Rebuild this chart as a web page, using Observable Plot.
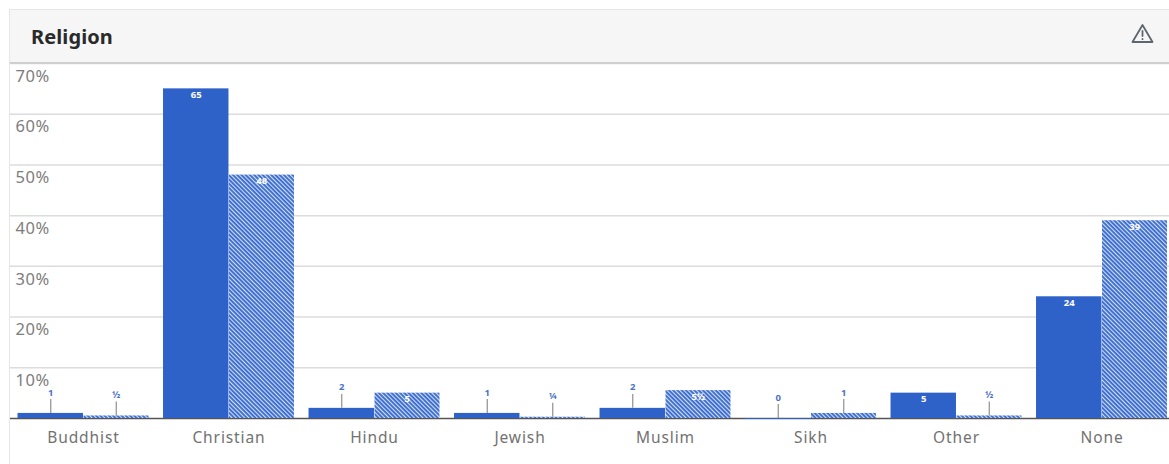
<!DOCTYPE html>
<html>
<head>
<meta charset="utf-8">
<script src="https://cdn.jsdelivr.net/npm/d3@7"></script>
<script src="https://cdn.jsdelivr.net/npm/@observablehq/plot@0.6"></script>
<style>
  html, body { margin: 0; padding: 0; background: #fff; overflow: hidden; }
  #page { position: relative; width: 1169px; height: 464px; overflow: hidden; font-family: "Noto Sans", sans-serif; }
  #card { position: absolute; left: 9px; top: 9px; width: 1170px; height: 470px; border: 1px solid #e6e6e6; box-sizing: border-box; }
  #head { position: absolute; left: 10px; top: 10px; width: 1159px; height: 52px; background: #f6f6f6; border-bottom: 2px solid #cfcfcf; box-sizing: content-box; }
  #head h2 { position: absolute; left: 21px; top: 11px; margin: 0; font-size: 20px; line-height: 32px; font-weight: 700; color: #2a2a2a; letter-spacing: 0.1px; }
  #head svg { position: absolute; left: 1121px; top: 13px; }
  #chart { position: absolute; left: 0; top: 0; }
  #chart svg { display: block; background: transparent; }
</style>
</head>
<body>
<div id="page">
  <div id="card"></div>
  <div id="chart"></div>
  <div id="head">
    <h2>Religion</h2>
    <svg width="23" height="21" viewBox="0 0 23 21" fill="none" stroke="#5f6670" stroke-width="1.8" stroke-linejoin="round" stroke-linecap="round">
      <path d="M11.5 2 L21.5 19 L1.5 19 Z"/>
      <path d="M11.5 8 L11.5 13"/>
      <path d="M11.5 16 L11.5 16.2"/>
    </svg>
  </div>
</div>
<script>
const categories = ["Buddhist", "Christian", "Hindu", "Jewish", "Muslim", "Sikh", "Other", "None"];
const solidValues = [1, 65, 2, 1, 2, 0, 5, 24];
const solidLabels = ["1", "65", "2", "1", "2", "0", "5", "24"];
const hatchedValues = [0.5, 48, 5, 0.25, 5.5, 1, 0.5, 39];
const hatchedLabels = ["½", "48", "5", "¼", "5½", "1", "½", "39"];
const yTicks = [10, 20, 30, 40, 50, 60, 70];

const blue = "#2f62c8";
const half = 32.75;           // offset from a category's centre to each bar's centre
const insideFrom = 3;         // bars at least this tall carry their label inside
const leaderRise = 2.75;      // leader length above the bar, in percentage points

const rows = (values, labels) => categories.map((category, i) => ({category, value: values[i], label: labels[i]}));
const solid = rows(solidValues, solidLabels);
const hatched = rows(hatchedValues, hatchedLabels);

// Pattern used by the hatched series
const hatchDefs = () => {
  const ns = "http://www.w3.org/2000/svg";
  const defs = document.createElementNS(ns, "defs");
  const pattern = document.createElementNS(ns, "pattern");
  pattern.setAttribute("id", "hatch");
  pattern.setAttribute("patternUnits", "userSpaceOnUse");
  pattern.setAttribute("width", 3);
  pattern.setAttribute("height", 3);
  pattern.setAttribute("patternTransform", "rotate(-45)");
  const bg = document.createElementNS(ns, "rect");
  bg.setAttribute("width", 3);
  bg.setAttribute("height", 3);
  bg.setAttribute("fill", "#3a6ccd");
  const stripe = document.createElementNS(ns, "rect");
  stripe.setAttribute("width", 1.1);
  stripe.setAttribute("height", 3);
  stripe.setAttribute("fill", "#d3dff6");
  pattern.append(bg, stripe);
  defs.append(pattern);
  return defs;
};

// Bars, leaders and value labels for one series, shifted to its half of the band
const seriesMarks = (data, fill, shift, insets) => [
  Plot.barY(data, {x: "category", y: "value", fill, ...insets}),
  // A zero share still shows as a hairline along the baseline
  Plot.tickY(data.filter(d => d.value === 0), {x: "category", y: "value", stroke: blue, strokeWidth: 1, ...insets}),
  Plot.ruleX(data.filter(d => d.value < insideFrom), {
    x: "category", y1: "value", y2: d => d.value + leaderRise,
    dx: shift, stroke: "#8f8f8f", strokeWidth: 1.2
  }),
  Plot.text(data.filter(d => d.value < insideFrom), {
    x: "category", y: d => d.value + leaderRise, text: "label",
    dx: shift, dy: -7, fill: "#4a72c4", fontSize: 9.5, fontWeight: 700
  }),
  Plot.text(data.filter(d => d.value >= insideFrom), {
    x: "category", y: "value", text: "label",
    dx: shift, dy: 6, fill: "#fff", fontSize: 9.5, fontWeight: 700
  })
];

const chart = Plot.plot({
  width: 1169,
  height: 464,
  marginLeft: 10,
  marginRight: 0,
  marginTop: 63,
  marginBottom: 46,
  style: {background: "transparent", fontFamily: "'Noto Sans', sans-serif"},
  x: {domain: categories, range: [10.25, 1174.25], paddingInner: 0.1, paddingOuter: 0.05, round: false, label: null},
  y: {domain: [0, 70], label: null},
  marks: [
    hatchDefs,
    Plot.ruleY(yTicks, {stroke: "#dcdcdc", strokeWidth: 1.5}),
    Plot.ruleY([0], {stroke: "#555", strokeWidth: 1.5}),
    seriesMarks(solid, blue, -half, {insetRight: 65.5, insetLeft: 0}),
    seriesMarks(hatched, "url(#hatch)", half, {insetLeft: 66, insetRight: 0}),
    Plot.axisX({tickSize: 0, tickPadding: 13, fontSize: 15.5, fill: "#727272", label: null}),
    Plot.axisY(yTicks, {
      anchor: "left", tickSize: 0, textAnchor: "start", dx: 14, dy: 13, fontSize: 16.5,
      fill: "#7d7d7d", label: null, tickFormat: d => d + "%"
    })
  ]
});

// Open up the tracking of the axis labels
d3.select(chart).selectAll("text").each(function () {
  const content = this.textContent;
  if (categories.includes(content)) this.style.letterSpacing = "0.9px";
  else if (content.endsWith("%")) this.style.letterSpacing = "0.5px";
});

document.getElementById("chart").append(chart);
</script>
</body>
</html>
